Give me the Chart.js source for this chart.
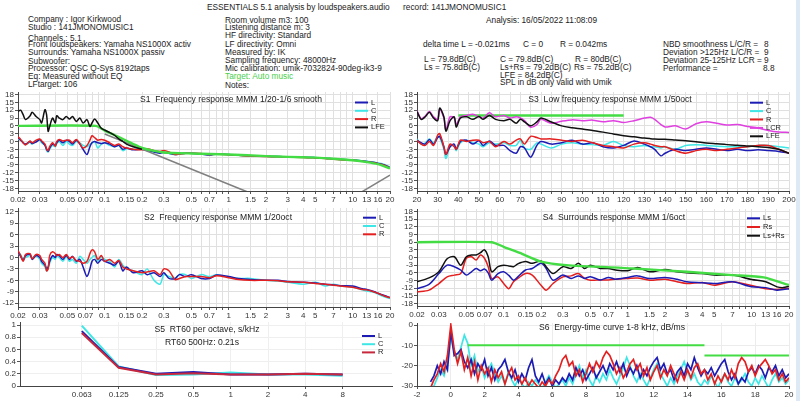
<!DOCTYPE html>
<html>
<head>
<meta charset="utf-8">
<script src="https://cdn.jsdelivr.net/npm/chart.js@4.4.1/dist/chart.umd.min.js"></script>
<style>
  body { margin: 0; width: 800px; height: 401px; overflow: hidden; position: relative; background: #fff;
         font-family: "Liberation Sans", Arial, sans-serif; }
  .t { position: absolute; font-size: 8.3px; line-height: 9px; color: #222; white-space: nowrap; }
  canvas { position: absolute; }
  #edge { position: absolute; left: 796px; top: 0; width: 4px; height: 401px; background: #dde9f5; }
</style>
</head>
<body>
<div id="edge"></div>
<script>
// header text: [text, x, y centre, colour]
const headerLines = [
  ["ESSENTIALS 5.1 analysis by loudspeakers.audio", 207, 7],
  ["record: 141JMONOMUSIC1", 403, 7],
  ["Company : Igor Kirkwood", 28, 19.5],
  ["Studio : 141JMONOMUSIC1", 28, 27.5],
  ["Channels : 5.1", 28, 38.5],
  ["Front loudspeakers: Yamaha NS1000X activ", 28, 44.5],
  ["Surrounds: Yamaha NS1000X passiv", 28, 52.5],
  ["Subwoofer:", 28, 61],
  ["Processor: QSC Q-Sys 8192taps", 28, 68.5],
  ["Eq: Measured without EQ", 28, 76],
  ["LFtarget: 106", 28, 84],
  ["Room volume m3: 100", 225, 20],
  ["Listening distance m: 3", 225, 27.5],
  ["HF directivity: Standard", 225, 35.5],
  ["LF directivity: Omni", 225, 44],
  ["Measured by: IK", 225, 52],
  ["Sampling frequency: 48000Hz", 225, 60.5],
  ["Mic calibration: umik-7032824-90deg-ik3-9", 225, 68.5],
  ["Target: Auto music", 225, 76.5, "#4ccf4c"],
  ["Notes:", 225, 85.5],
  ["Analysis: 16/05/2022 11:08:09", 486, 20.5],
  ["delta time  L = -0.021ms", 423, 44],
  ["C = 0", 523, 44],
  ["R = 0.042ms", 560, 44],
  ["L = 79.8dB(C)", 424, 59.5],
  ["Ls = 75.8dB(C)", 424, 67.5],
  ["C = 79.8dB(C)", 500, 59.5],
  ["Ls+Rs = 79.2dB(C)", 500, 67.5],
  ["LFE = 84.2dB(C)", 500, 75],
  ["SPL in dB only valid with Umik", 500, 82],
  ["R = 80dB(C)", 575, 59.5],
  ["Rs = 75.2dB(C)", 574, 67.5],
  ["NBD smoothness L/C/R =", 663, 44],
  ["Deviation >125Hz L/C/R =", 663, 52.5],
  ["Deviation 25-125Hz LCR =", 663, 60.5],
  ["Performance =", 663, 68.5],
  ["8", 764, 44],
  ["9", 764, 52.5],
  ["9", 764, 60.5],
  ["8.8", 763, 68.5]
];

// --- S1 / S2 : frequency response, kHz
const freqGrid = [0.02,0.021,0.022,0.023,0.025,0.026,0.028,0.03,0.031,0.033,0.034,0.035,0.036,0.038,0.04,0.041,0.043,0.046,0.049,0.052,
  0.055,0.059,0.063,0.067,0.072,0.076,0.079,0.083,0.088,0.094,0.1,0.11,0.12,0.13,0.14,0.15,0.17,0.2,0.22,0.25,
  0.28,0.3,0.33,0.37,0.4,0.45,0.5,0.6,0.7,0.8,1,1.2,1.5,2,2.5,3,4,5,6,7,8,10,12,13,15,16,18,20];

const s1L = [1.5,0.5,-0.5,-1.0,0.0,-0.8,-0.2,0.8,0.0,-1.5, -3.0,-3.8,-2.5,-1.0,-1.5,-0.5,0.5,-0.5,0.5,0.0,
  -1.0,0.5,-1.0,-3.0,-5.0,-2.0,-0.5,0.0,-0.5,-0.8, -0.5,-1.0,-2.0,-1.5,-3.0,-2.5,-3.2,-3.0,-3.5,-4.0,
  -4.5,-4.2,-4.5,-5.0,-4.8,-4.5,-4.5,-4.8,-5.2,-4.8, -5.0,-5.3,-5.5,-5.7,-5.8,-5.9,-6.0,-6.2,-6.4,-6.7,
  -6.9,-7.1,-7.5,-7.7,-8.1,-8.4,-9.0,-10.0];
const s1C = [1.0,0.5,-0.3,-1.2,-0.3,-1.0,0.2,0.5,-0.5,-1.5, -3.5,-4.0,-3.0,-1.5,-2.0,-1.0,0.0,-1.5,0.0,-1.0,
  -1.5,0.0,-0.5,-1.5,-2.0,-1.0,-0.5,0.0,-2.5,-1.0, -0.5,-1.5,-2.0,-1.5,-3.5,-2.8,-3.0,-3.0,-3.5,-4.0,
  -4.3,-4.0,-4.5,-5.0,-4.5,-4.3,-4.5,-4.8,-5.0,-4.8, -5.0,-5.3,-5.5,-5.7,-5.8,-5.9,-6.0,-6.1,-6.4,-6.6,
  -6.8,-7.0,-7.4,-7.6,-8.0,-8.2,-8.8,-9.8];
const s1R = [1.8,0.8,-0.5,-1.3,0.2,-0.5,0.5,1.0,0.3,-1.0, -2.8,-3.5,-2.0,-0.5,-1.8,0.0,0.8,0.2,0.5,0.5,
  -0.5,0.8,-0.8,-2.5,-1.5,0.5,2.2,1.5,0.5,0.8, 0.5,-0.5,-1.5,-1.0,-2.0,-2.5,-3.0,-3.2,-2.8,-3.5,
  -3.8,-3.5,-4.0,-5.0,-4.8,-4.5,-4.5,-4.6,-5.0,-4.8, -5.1,-5.3,-5.6,-5.8,-5.9,-6.0,-6.1,-6.3,-6.5,-6.8,
  -7.0,-7.2,-7.6,-7.8,-8.2,-8.5,-9.1,-10.2];
const s1LFE = [11.6,12.0,10.3,8.4,9.8,11.2,9.6,8.4,7.1,12.2, 10.3,3.9,5.8,9.0,7.1,9.9,9.0,8.4,9.6,8.6,
  9.6,7.7,9.0,7.1,8.4,5.8,7.1,8.6,7.1,5.1, 4.4,3.4,2.4,1.0,0.0,-1.0,-2.0,-3.0];
const s1TargetFreq = [0.02,0.085,0.1,0.12,0.15,0.17,0.2,0.25,0.3,0.5,1,2,3,5,7,10,13,16,20];
const s1TargetDb = [6,6,4.2,2.5,0.3,-1.0,-2.5,-3.6,-4.2,-4.6,-5.0,-5.6,-5.9,-6.2,-6.6,-7.2,-7.9,-8.7,-10.3];
const s1LowpassFreq = [0.1,0.15,1.3,2.5];
const s1LowpassDb = [2.9,-0.5,-18.6,-24];
const s1HighpassFreq = [10,20];
const s1HighpassDb = [-21.4,-12.9];

const s2L = [1.5,0.3,-0.8,0.5,0.8,-0.5,0.5,0.0,-1.0,-2.0, -3.0,-2.5,-1.0,0.5,0.0,0.8,0.5,-0.5,0.5,-0.5,
  0.3,-1.0,-0.5,-2.5,-5.0,-3.0,-1.0,-0.5,-1.5,-0.5, -1.0,-1.5,-2.0,-1.0,-3.5,-2.5,-4.0,-3.5,-4.5,-4.0,
  -5.0,-4.0,-5.5,-5.5,-4.5,-5.0,-4.5,-5.5,-5.5,-4.6, -5.0,-5.5,-5.8,-6.0,-6.0,-6.3,-6.5,-6.7,-7.0,-7.2,
  -7.4,-7.5,-8.2,-8.4,-9.0,-9.4,-10.0,-10.5];
const s2C = [1.0,0.8,-0.5,0.0,0.5,0.0,0.3,-0.5,-1.5,-2.5, -3.5,-3.0,-1.5,0.0,-0.5,0.5,0.0,-1.0,0.2,-1.0,
  -0.5,-1.5,0.3,-0.5,-1.5,-0.5,0.0,0.5,-1.0,0.2, -0.5,-1.0,-2.5,-0.5,-2.0,-3.0,-3.5,-4.5,-3.0,-6.0,
  -7.0,-4.5,-5.0,-5.5,-4.5,-4.5,-5.5,-4.5,-5.0,-4.5, -5.2,-5.5,-5.5,-6.0,-6.2,-6.5,-7.0,-6.5,-7.5,-7.0,
  -7.5,-7.8,-8.5,-8.8,-9.2,-9.6,-10.3,-10.8];
const s2R = [1.8,0.5,-1.0,0.8,1.0,-0.3,0.8,0.5,-0.5,-1.5, -3.5,-3.0,0.5,1.5,1.0,0.5,0.8,0.0,0.8,-0.2,
  0.2,-0.8,-1.0,-1.5,-1.0,1.0,2.0,1.5,-0.5,0.5, -1.0,-0.5,-1.5,-0.8,-2.5,-3.0,-3.5,-4.0,-3.8,-3.5,
  -4.5,-3.0,-3.5,-5.8,-5.5,-5.0,-5.0,-5.0,-5.3,-4.8, -5.3,-5.8,-6.0,-6.0,-6.1,-6.4,-6.5,-6.8,-7.0,-7.3,
  -7.5,-7.8,-8.4,-8.5,-9.1,-9.4,-10.1,-10.6];

// --- S3 : low frequency, Hz
const lfFreq = [20,22,24,26,28,30,31,33,34,36, 38,39,41,44,47,50,52,55,58,62, 65,68,70,72,75,78,80,85,90,95,
  100,105,110,115,120,125,130,133,135,138, 140,145,150,155,160,165,170,175,180,185, 190,195,200];
const s3L = [0.5,-0.5,-1.0,0.8,-1.0,1.5,2.0,-2.0,-5.0,-2.0, -1.0,-3.0,0.0,0.5,-1.0,0.3,-1.5,0.2,-1.5,-1.5,
  -3.5,-4.5,-2.0,-2.5,-6.0,-1.5,0.0,-1.0,-0.5,0.5, -1.0,-0.5,-2.0,-2.5,-1.5,0.2,-1.0,-2.0,-3.0,-5.5,
  -4.5,-3.0,-3.5,-3.0,-2.5,-3.0,-3.5,-3.0,-3.5,-3.2, -3.5,-3.8,-4.5];
const s3C = [1.0,-1.0,-0.5,1.0,-0.5,2.0,1.5,-3.0,-6.5,-2.0, -1.5,-3.5,-0.5,0.5,-0.5,-1.0,-2.0,-0.5,-1.0,-0.5,
  -1.5,-1.5,0.5,-2.5,-3.0,-0.5,-1.0,-2.5,-1.0,-0.5, -1.0,-1.2,-1.5,0.0,-1.5,-2.0,-1.5,-2.0,-2.0,-2.5,
  -2.0,-3.0,-1.5,-1.2,-1.5,-1.8,-2.0,-2.0,-2.0,-1.5, -1.5,-2.0,-2.5];
const s3R = [0.5,-1.0,-1.5,0.0,-1.5,2.5,3.0,-2.0,-5.0,-1.0, -2.0,-3.0,0.5,0.0,0.5,0.5,-0.5,0.0,-2.0,0.0,
  -1.0,0.5,1.0,-1.0,2.0,1.5,1.0,1.0,0.5,0.0, 0.5,-0.5,-1.5,-2.0,-2.5,-1.0,-0.5,-1.0,-1.5,-2.0,
  -2.0,-3.5,-4.5,-3.5,-3.0,-3.5,-3.0,-2.5,-2.0,-1.5, -1.5,-3.0,-4.5];
const s3LCR = [11.8,8.8,9.8,11.5,9.5,8.5,12.5,9.0,4.5,9.5, 9.0,6.5,9.5,10.0,10.5,9.5,9.0,11.0,9.5,10.0,
  9.0,9.5,9.0,8.0,5.5,6.5,8.5,7.0,7.8,8.3, 8.0,8.2,7.6,8.0,7.3,8.0,9.0,9.3,8.5,6.5,
  5.6,6.0,4.8,6.8,7.6,7.0,6.3,6.5,5.8,5.2, 4.2,3.6,3.5];
const s3LFE = [11.5,8.5,9.5,11.2,9.0,8.0,12.8,9.5,4.0,8.0, 9.5,5.5,9.0,9.5,8.5,9.6,8.5,10.0,8.5,8.0,
  8.5,7.0,8.5,7.5,6.0,7.5,9.0,7.5,6.0,5.3, 4.8,4.2,3.6,2.9,2.2,1.8,1.3,1.1,1.0,0.9,
  0.9,0.6,0.3,-0.1,-0.6,-0.9,-1.2,-1.4,-1.7,-2.0, -2.3,-3.0,-4.5];
const s3TargetFreq = [40,120];
const s3TargetDb = [10,10];

// --- S4 : surrounds, kHz
const surFreq = [0.02,0.025,0.03,0.035,0.04,0.045,0.05,0.055,0.06,0.065,0.07,0.075,0.08,0.09,0.1,0.11,0.12,0.13,0.15,0.17,
  0.2,0.22,0.25,0.3,0.35,0.4,0.45,0.5,0.6,0.7,0.8,1,1.2,1.5,2,2.5,3,4,5,7,10,13,16,18,20];
const s4Ls = [-12.2,-10.5,-6.3,-3.0,-3.6,-4.9,-6.9,-5.6,-4.3,-5.2, -4.5,-6.0,-8.9,-6.3,-5.6,-7.0,-8.9,-7.6,-4.9,-4.3,
  -2.3,-4.3,-8.9,-6.9,-8.2,-7.2,-8.2,-7.5,-8.8,-7.8, -8.5,-7.8,-7.2,-8.2,-7.8,-8.5,-9.5,-9.9,-10.2,-9.5,
  -11.5,-11.8,-12.8,-12.5,-12.3];
const s4Rs = [-13.5,-12.8,-10.2,-7.6,-6.9,-6.3,-0.3,0.3,-1.0,1.0, -0.3,-3.6,-8.2,-7.6,-10.2,-12.2,-9.5,-8.2,-6.3,-6.9,
  -10.9,-12.8,-10.2,-7.6,-7.2,-6.3,-8.2,-8.9,-8.8,-8.8, -8.5,-8.2,-8.0,-8.9,-8.5,-9.5,-10.2,-9.8,-10.9,-9.5,
  -11.0,-12.2,-12.5,-12.3,-12.0];
const s4LsRs = [-9.5,-8.0,-5.6,-0.5,0.3,-3.0,0.3,1.0,1.0,1.9, 3.0,0.3,-5.6,-3.6,-3.0,-3.3,-3.6,-2.5,-1.6,-2.3,
  -1.4,-3.6,-6.3,-3.6,-4.3,-2.3,-4.3,-3.0,-4.3,-4.3, -4.9,-5.2,-3.9,-5.6,-4.7,-5.6,-6.0,-6.3,-6.9,-6.9,
  -8.6,-9.5,-11.5,-11.8,-11.3];
const s4TargetFreq = [0.02,0.08,0.1,0.135,0.2,0.32,1.1,3,7,12.5,20];
const s4TargetDb = [6,6,4.2,1.8,-1.6,-3.0,-4.3,-5.6,-6.9,-7.8,-10.8];

// --- S5 : RT60 per octave
const rtFreq = [0.063,0.125,0.25,0.5,1,2,4,8];
const rtL = [0.90,0.31,0.20,0.23,0.19,0.19,0.20,0.19];
const rtC = [0.99,0.32,0.18,0.19,0.22,0.19,0.19,0.17];
const rtR = [0.87,0.30,0.19,0.21,0.19,0.19,0.20,0.19];

// --- S6 : energy-time curve, ms
const etcTime = [-1.2,-1.0,-0.8,-0.6,-0.4,-0.2,0,0.2,0.4,0.6, 0.8,1.0,1.2,1.4,1.6,1.8,2.0,2.2,2.4,2.6,
  2.8,3.0,3.2,3.4,3.6,3.8,4.0,4.2,4.4,4.6, 4.8,5.0,5.2,5.4,5.6,5.8,6.0,6.2,6.4,6.6,
  6.8,7.0,7.2,7.4,7.6,7.8,8.0,8.2,8.4,8.6, 8.8,9.0,9.2,9.4,9.6,9.8,10.0,10.2,10.4,10.6,
  10.8,11.0,11.2,11.4,11.6,11.8,12.0,12.2,12.4,12.6, 12.8,13.0,13.2,13.4,13.6,13.8,14.0,14.2,14.4,14.6,
  14.8,15.0,15.2,15.4,15.6,15.8,16.0,16.2,16.4,16.6, 16.8,17.0,17.2,17.4,17.6,17.8,18.0,18.2,18.4,18.6,
  18.8,19.0,19.2,19.4,19.6,19.8,20.0];
const etcR = [-31,-27,-24,-19,-23,-15,0,-12,-19,-13, -22,-16,-25,-18,-27,-20,-24,-21,-28,-22,
  -26,-23,-29,-24,-21,-27,-25,-29,-26,-30, -27,-29,-31,-28,-30,-27,-29,-25,-22,-17,
  -15,-20,-18,-25,-22,-28,-24,-19,-23,-18, -21,-16,-13,-15,-19,-24,-21,-26,-23,-19,
  -17,-22,-19,-25,-21,-27,-23,-20,-26,-22, -25,-20,-24,-28,-23,-27,-22,-26,-21,-19,
  -24,-22,-27,-24,-29,-25,-28,-24,-27,-22, -26,-19,-16,-18,-23,-20,-25,-21,-19,-17,
  -20,-24,-22,-27,-24,-28,-26];
const etcL = [-28,-25,-20,-24,-18,-22,-3,-15,-14,-12, -18,-21,-17,-24,-19,-22,-17,-25,-21,-27,
  -22,-20,-17,-23,-26,-22,-28,-24,-27,-21, -17,-25,-28,-24,-29,-26,-30,-27,-29,-26,
  -28,-24,-27,-21,-25,-22,-27,-24,-21,-26, -23,-20,-24,-19,-22,-18,-23,-19,-25,-21,
  -24,-20,-26,-22,-25,-21,-18,-16,-22,-19, -24,-22,-27,-23,-21,-25,-19,-22,-16,-21,
  -25,-22,-24,-21,-25,-22,-19,-17,-23,-27, -24,-29,-26,-28,-23,-21,-24,-20,-22,-26,
  -21,-23,-20,-25,-22,-26,-24];
const etcC = [-31,-30,-26,-22,-25,-19,-6,-13,-17,-11, -5,-9,-20,-15,-23,-20,-26,-22,-19,-24,
  -28,-25,-29,-23,-27,-30,-26,-29,-31,-28, -30,-27,-29,-31,-28,-25,-28,-31,-29,-27,
  -30,-26,-29,-24,-20,-26,-22,-27,-30,-25, -28,-24,-27,-22,-26,-29,-25,-21,-16,-20,
  -25,-28,-24,-27,-30,-26,-22,-19,-24,-27, -30,-26,-29,-25,-22,-18,-23,-27,-24,-28,
  -30,-27,-29,-25,-28,-31,-27,-24,-28,-30, -26,-29,-27,-24,-28,-30,-26,-29,-25,-28,
  -31,-27,-24,-28,-26,-29,-27];
const etcTarget1Time = [1,15];
const etcTarget1Db = [-10,-10];
const etcTarget2Time = [15,20];
const etcTarget2Db = [-15,-15];

// --- ticks
const logGrid = [0.02,0.03,0.04,0.05,0.06,0.07,0.08,0.09,0.1,0.15,0.2,0.3,0.4,0.5,0.6,0.7,0.8,0.9,1,1.5,2,3,4,5,6,7,8,9,10,13,16,20];
const logLabels = [0.02,0.03,0.05,0.07,0.1,0.15,0.2,0.3,0.5,0.7,1,1.5,2,3,4,5,7,10,13,16,20];
const dbTicks18 = [18,15,12,9,6,3,0,-3,-6,-9,-12,-15,-18];
const dbTicks12 = [12,9,6,3,0,-3,-6,-9,-12];
const lfGrid = [20,25,30,35,40,45,50,55,60,65,70,75,80,85,90,95,100,105,110,115,120,125,130,135,140,145,150,155,160,165,170,175,180,185,190,195,200];
const lfLabels = [20,30,40,50,60,70,80,90,100,110,120,130,140,150,160,170,180,190,200];
const rtTicks = [0,0.2,0.4,0.6,0.8,1];
const etcXTicks = [-2,0,2,4,6,8,10,12,14,16,18,20];
const etcYTicks = [0,-10,-20,-30];

const BLUE = "#1c1cb4", CYAN = "#3ee6e6", RED = "#e41f1f", BLACK = "#111111",
      MAGENTA = "#e040e0", GREEN = "#44dc44", GRAY = "#808080";
const FONT = '"Liberation Sans", Arial, sans-serif';

Chart.defaults.font.family = FONT;
Chart.defaults.font.size = 8;
Chart.defaults.color = "#333";

headerLines.forEach(([text, x, y, color]) => {
  const d = document.createElement("div");
  d.className = "t";
  d.textContent = text;
  d.style.left = x + "px";
  d.style.top = (y - 4.5) + "px";
  if (color) d.style.color = color;
  document.body.appendChild(d);
});

const pts = (xs, ys) => ys.map((y, i) => ({ x: xs[i], y }));

function line(label, xs, ys, color, width, order, extra) {
  return Object.assign({
    label, data: pts(xs, ys), borderColor: color, backgroundColor: color,
    borderWidth: width, pointRadius: 0, tension: 0.3, fill: false, order
  }, extra);
}

function axis(type, min, max, tickVals, labelVals, gridColor) {
  return {
    type, min, max,
    afterBuildTicks: s => { s.ticks = tickVals.map(v => ({ value: v })); },
    ticks: {
      autoSkip: false, maxRotation: 0, minRotation: 0, padding: 1, color: "#333",
      font: { size: 8 },
      callback: v => (labelVals.includes(v) ? String(v) : "")
    },
    grid: { color: gridColor || "#e0e0e0", tickLength: 3, tickColor: "#555" },
    border: { color: "#444", width: 1 }
  };
}

// title + legend drawn inside the plot area
function deco(d) {
  return {
    id: "deco",
    afterDatasetsDraw(chart) {
      const ctx = chart.ctx, a = chart.chartArea;
      ctx.save();
      ctx.fillStyle = "#222";
      ctx.textBaseline = "middle";
      ctx.textAlign = "center";
      ctx.font = "8.6px " + FONT;
      d.titles.forEach(t => ctx.fillText(t[0], a.left + t[1], a.top + t[2]));
      if (d.legend) {
        const [dx, dy, gap] = d.legend;
        ctx.textAlign = "left";
        ctx.font = "7.5px " + FONT;
        let y = a.top + dy;
        chart.data.datasets.forEach(ds => {
          if (ds.noLegend) return;
          ctx.strokeStyle = ds.borderColor;
          ctx.lineWidth = 2;
          ctx.beginPath();
          ctx.moveTo(a.right - dx, y);
          ctx.lineTo(a.right - dx + 13, y);
          ctx.stroke();
          ctx.fillText(ds.label, a.right - dx + 16, y);
          y += gap;
        });
      }
      ctx.restore();
    }
  };
}

function makePanel(area, xAxis, yAxis, datasets, d) {
  const padL = 20, padT = 5, padR = 7, padB = 15;
  const w = area.w + padL + padR, h = area.h + padT + padB;
  const cv = document.createElement("canvas");
  cv.width = w; cv.height = h;
  cv.style.left = (area.x - padL) + "px";
  cv.style.top = (area.y - padT) + "px";
  cv.style.width = w + "px"; cv.style.height = h + "px";
  document.body.appendChild(cv);

  xAxis.afterFit = s => { s.height = padB; s.paddingLeft = 0; s.paddingRight = 0; };
  yAxis.afterFit = s => { s.width = padL; s.paddingTop = 0; s.paddingBottom = 0; };

  return new Chart(cv.getContext("2d"), {
    type: "line",
    data: { datasets },
    options: {
      responsive: false,
      animation: false,
      layout: { padding: { left: 0, top: padT, right: padR, bottom: 0 }, autoPadding: false },
      plugins: { legend: { display: false }, tooltip: { enabled: false } },
      scales: { x: xAxis, y: yAxis }
    },
    plugins: [deco(d)]
  });
}

// S1
makePanel({ x: 18, y: 92, w: 372, h: 99 },
  axis("logarithmic", 0.02, 20, logGrid, logLabels),
  axis("linear", -19, 19, dbTicks18, dbTicks18),
  [
    line("L", freqGrid, s1L, BLUE, 1.5, 4),
    line("C", freqGrid, s1C, CYAN, 1.5, 5),
    line("R", freqGrid, s1R, RED, 1.5, 3),
    line("LFE", freqGrid, s1LFE, BLACK, 1.5, 0),
    line("target", s1TargetFreq, s1TargetDb, GREEN, 2.4, 1, { noLegend: true, tension: 0.2 }),
    line("lowpass", s1LowpassFreq, s1LowpassDb, GRAY, 1.5, 2, { noLegend: true, tension: 0 }),
    line("highpass", s1HighpassFreq, s1HighpassDb, GRAY, 1.5, 2, { noLegend: true, tension: 0 })
  ],
  { titles: [["S1  Frequency response MMM 1/20-1/6 smooth", 213, 8]], legend: [35, 10.5, 8.3] });

// S2
makePanel({ x: 18, y: 208, w: 372, h: 99 },
  axis("logarithmic", 0.02, 20, logGrid, logLabels),
  axis("linear", -13, 13, dbTicks12, dbTicks12),
  [
    line("L", freqGrid, s2L, BLUE, 1.5, 3),
    line("C", freqGrid, s2C, CYAN, 1.5, 4),
    line("R", freqGrid, s2R, RED, 1.5, 2)
  ],
  { titles: [["S2  Frequency response MMM 1/20oct", 200, 10]], legend: [27, 9.7, 8.3] });

// S5
makePanel({ x: 20, y: 322, w: 372, h: 64 },
  axis("logarithmic", 0.02, 20, rtFreq, rtFreq, "#efefef"),
  axis("linear", 0, 1.05, rtTicks, rtTicks, "#efefef"),
  [
    line("L", rtFreq, rtL, BLUE, 2, 2, { tension: 0 }),
    line("C", rtFreq, rtC, CYAN, 2, 3, { tension: 0 }),
    line("R", rtFreq, rtR, "#c8283c", 2, 1, { tension: 0 })
  ],
  { titles: [["S5  RT60 per octave, s/kHz", 187, 8], ["RT60 500Hz: 0.21s", 182, 21]], legend: [30, 14, 8.2] });

// S3
makePanel({ x: 417, y: 92, w: 372, h: 99 },
  axis("linear", 20, 200, lfGrid, lfLabels),
  axis("linear", -19, 19, dbTicks18, dbTicks18),
  [
    line("L", lfFreq, s3L, BLUE, 1.5, 4),
    line("C", lfFreq, s3C, CYAN, 1.5, 5),
    line("R", lfFreq, s3R, RED, 1.5, 3),
    line("LCR", lfFreq, s3LCR, MAGENTA, 1.5, 1),
    line("LFE", lfFreq, s3LFE, BLACK, 1.5, 0),
    line("target", s3TargetFreq, s3TargetDb, GREEN, 2.4, 2, { noLegend: true, tension: 0 })
  ],
  { titles: [["S3  Low frequency response MMM 1/50oct", 193, 8]], legend: [39, 10.7, 8.4] });

// S4
makePanel({ x: 417, y: 209, w: 372, h: 97 },
  axis("logarithmic", 0.02, 20, logGrid, logLabels),
  axis("linear", -19, 19, dbTicks18, dbTicks18),
  [
    line("Ls", surFreq, s4Ls, BLUE, 1.5, 2),
    line("Rs", surFreq, s4Rs, RED, 1.5, 3),
    line("Ls+Rs", surFreq, s4LsRs, BLACK, 1.5, 1),
    line("target", s4TargetFreq, s4TargetDb, GREEN, 2.4, 0, { noLegend: true, tension: 0.2 })
  ],
  { titles: [["S4  Surrounds response MMM 1/6oct", 197, 8.7]], legend: [42, 9.3, 8.7] });

// S6
makePanel({ x: 417, y: 323, w: 372, h: 63 },
  axis("linear", -2, 20, etcXTicks, etcXTicks, "#ececec"),
  axis("linear", -30, 1, etcYTicks, etcYTicks, "#ececec"),
  [
    line("L", etcTime, etcL, BLUE, 1.7, 2, { tension: 0 }),
    line("C", etcTime, etcC, CYAN, 1.7, 3, { tension: 0 }),
    line("R", etcTime, etcR, RED, 1.7, 1, { tension: 0 }),
    line("target", etcTarget1Time, etcTarget1Db, GREEN, 2, 0, { tension: 0 }),
    line("target2", etcTarget2Time, etcTarget2Db, GREEN, 2, 0, { tension: 0 })
  ],
  { titles: [["S6  Energy-time curve 1-8 kHz, dB/ms", 195, 5]] });
</script>
</body>
</html>
